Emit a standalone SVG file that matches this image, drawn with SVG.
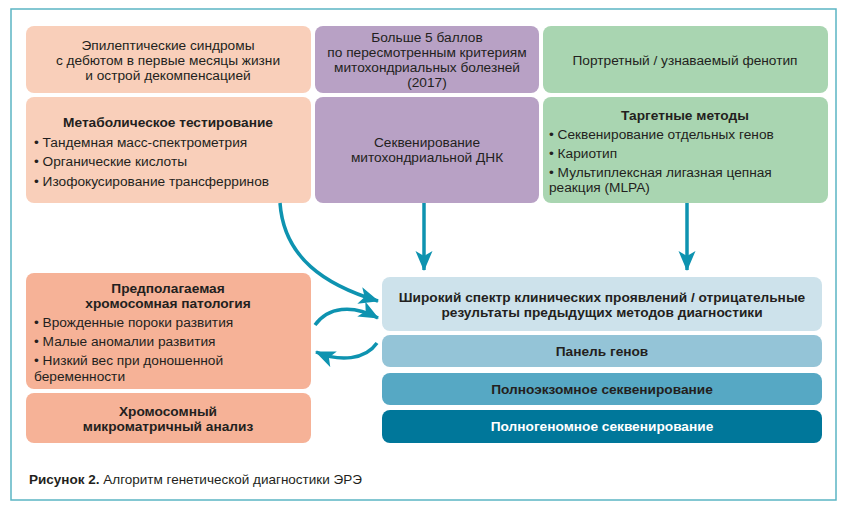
<svg xmlns="http://www.w3.org/2000/svg" width="842" height="510" viewBox="0 0 842 510">
<defs>
<style>
text{font-family:"Liberation Sans",Arial,sans-serif;font-size:13.7px;fill:#231f20}
.b{font-weight:bold}
.c{text-anchor:middle}
.w{fill:#ffffff}
.cap{font-size:13.5px}
.con{fill:none;stroke:#0e93b0;stroke-width:3.5}
</style>
<marker id="ah" markerUnits="userSpaceOnUse" markerWidth="22" markerHeight="20" refX="19" refY="9" orient="auto" viewBox="0 0 22 20">
<path d="M0,0.5 L20,9 L0,17.5 L5,9 Z" fill="#0e93b0"/>
</marker>
</defs>
<rect width="842" height="510" fill="#ffffff"/>
<rect x="11" y="9" width="825" height="491" fill="#ffffff" stroke="#5bb5c3" stroke-width="1.5"/>

<g id="epi">
<rect x="26" y="26" width="285" height="67" rx="8" fill="#f9cfba"/>
<text class="c" x="168" y="50">Эпилептические синдромы</text>
<text class="c" x="168" y="65">с дебютом в первые месяцы жизни</text>
<text class="c" x="168" y="80">и острой декомпенсацией</text>
</g>
<g id="metab">
<rect x="26" y="97" width="285" height="106" rx="8" fill="#f9cfba"/>
<text class="c b" x="168" y="127">Метаболическое тестирование</text>
<text x="34" y="147">• Тандемная масс-спектрометрия</text>
<text x="34" y="166">• Органические кислоты</text>
<text x="34" y="186">• Изофокусирование трансферринов</text>
</g>
<g id="mito-crit">
<rect x="315" y="26" width="224" height="67" rx="8" fill="#b8a1c5"/>
<text class="c" x="427" y="42">Больше 5 баллов</text>
<text class="c" x="427" y="57">по пересмотренным критериям</text>
<text class="c" x="427" y="72">митохондриальных болезней</text>
<text class="c" x="427" y="87">(2017)</text>
</g>
<g id="mito-seq">
<rect x="315" y="97" width="224" height="106" rx="8" fill="#b8a1c5"/>
<text class="c" x="427" y="147">Секвенирование</text>
<text class="c" x="427" y="162">митохондриальной ДНК</text>
</g>
<g id="pheno">
<rect x="543" y="26" width="285" height="67" rx="8" fill="#a9d5b1"/>
<text class="c" x="685" y="65">Портретный / узнаваемый фенотип</text>
</g>
<g id="target">
<rect x="543" y="97" width="285" height="106" rx="8" fill="#a9d5b1"/>
<text class="c b" x="685" y="120">Таргетные методы</text>
<text x="549" y="139">• Секвенирование отдельных генов</text>
<text x="549" y="158">• Кариотип</text>
<text x="549" y="177">• Мультиплексная лигазная цепная</text>
<text x="549" y="192">реакция (MLPA)</text>
</g>
<g id="chrom">
<rect x="26" y="273" width="285" height="116" rx="8" fill="#f6b297"/>
<text class="c b" x="168" y="293">Предполагаемая</text>
<text class="c b" x="168" y="308">хромосомная патология</text>
<text x="34" y="327">• Врожденные пороки развития</text>
<text x="34" y="346">• Малые аномалии развития</text>
<text x="34" y="365">• Низкий вес при доношенной</text>
<text x="34" y="381">беременности</text>
</g>
<g id="cma">
<rect x="26" y="393" width="285" height="50" rx="8" fill="#f6b297"/>
<text class="c b" x="168" y="416">Хромосомный</text>
<text class="c b" x="168" y="431">микроматричный анализ</text>
</g>
<g id="wide">
<rect x="382" y="277" width="440" height="54" rx="8" fill="#cde2eb"/>
<text class="c b" x="602" y="302">Широкий спектр клинических проявлений / отрицательные</text>
<text class="c b" x="602" y="317">результаты предыдущих методов диагностики</text>
</g>
<g id="panel">
<rect x="382" y="335" width="440" height="32" rx="8" fill="#94c4d7"/>
<text class="c b" x="602" y="356">Панель генов</text>
</g>
<g id="wes">
<rect x="382" y="373" width="440" height="32" rx="8" fill="#56a8c4"/>
<text class="c b" x="602" y="394">Полноэкзомное секвенирование</text>
</g>
<g id="wgs">
<rect x="382" y="410" width="440" height="33" rx="8" fill="#00779a"/>
<text class="c b w" x="602" y="431">Полногеномное секвенирование</text>
</g>

<g id="connectors">
<path class="con" d="M280,203 C284,258 325,285 378,301" marker-end="url(#ah)"/>
<path class="con" d="M424,203 L424,270" marker-end="url(#ah)"/>
<path class="con" d="M687,203 L687,270" marker-end="url(#ah)"/>
<path class="con" d="M315,325 C328,307 352,304 378,318" marker-end="url(#ah)"/>
<path class="con" d="M377,343 C365,360 340,362 316,352" marker-end="url(#ah)"/>
</g>

<text x="29" y="484" class="cap"><tspan class="b">Рисунок 2.</tspan> Алгоритм генетической диагностики ЭРЭ</text>
</svg>
